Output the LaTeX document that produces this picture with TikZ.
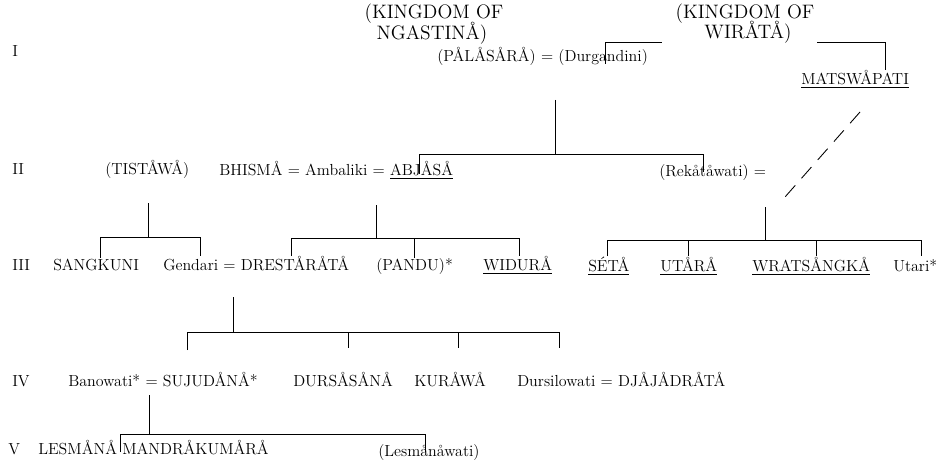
\documentclass[tikz,border=0pt]{standalone}
\usepackage{fontspec}
\begin{document}
\begin{tikzpicture}[x=0.75pt,y=-0.75pt,
  txt/.style={inner sep=0pt, font=\fontsize{12}{14}\selectfont, anchor=mid west},
  ttl/.style={inner sep=0pt, font=\fontsize{14.6}{16}\selectfont, anchor=mid},
  ln/.style={line width=0.65pt},
  dsh/.style={line width=0.65pt, dash pattern=on 11.25pt off 7.1pt}]
\useasboundingbox[fill=white] (0,0) rectangle (944,463);
% generation labels
\node[txt] (gI) at (12,54) {I};
\node[txt] (gII) at (12,172) {II};
\node[txt] (gIII) at (12,268) {III};
\node[txt] (gIV) at (12,384) {IV};
\node[txt] (gV) at (8,452) {V};
% row I
\node[ttl] (ng1) at (434,16) {(KINGDOM OF};
\node[ttl] (ng2) at (432,37) {NGASTINÅ)};
\node[ttl] (wi1) at (745,16) {(KINGDOM OF};
\node[ttl] (wi2) at (748,36) {WIRÅTÅ)};
\node[txt] (pal) at (437,59) {(PÅLÅSÅRÅ) = (Durgandini)};
\node[txt] (mats) at (801,82) {\underline{MATSWÅPATI}};
% row II
\node[txt] (tist) at (105,172) {(TISTÅWÅ)};
\node[txt] (bhis) at (219,173) {BHISMÅ = Ambaliki = \underline{ABJÅSÅ}};
\node[txt] (rek) at (659,174) {(Rekåtåwati) =};
% row III
\node[txt] (sang) at (53,268) {SANGKUNI};
\node[txt] (gend) at (163,268) {Gendari = DRESTÅRÅTÅ};
\node[txt] (pandu) at (376,268) {(PANDU)*};
\node[txt] (widura) at (483,268) {\underline{WIDURÅ}};
\node[txt] (seta) at (588,269) {\underline{SÉTÅ}};
\node[txt] (utara) at (660,269) {\underline{UTÅRÅ}};
\node[txt] (wrats) at (752,269) {\underline{WRATSÅNGKÅ}};
\node[txt] (utari) at (893,269) {Utari*};
% row IV
\node[txt] (banow) at (68,384) {Banowati* = SUJUDÅNÅ*};
\node[txt] (durs) at (293,384) {DURSÅSÅNÅ};
\node[txt] (kura) at (414,384) {KURÅWÅ};
\node[txt] (dursi) at (517,384) {Dursilowati = DJÅJÅDRÅTÅ};
% row V
\node[txt] (lesm) at (38,452) {LESMÅNÅ};
\node[txt] (mandra) at (122,452) {MANDRÅKUMÅRÅ};
\node[txt] (lesmw) at (378,454) {(Lesmånåwati)};
% connector points
\coordinate (nA) at (605,64); \coordinate (nB) at (605,42); \coordinate (nC) at (662,42);
\coordinate (wA) at (817,42); \coordinate (wB) at (885,42); \coordinate (wC) at (885,70);
\coordinate (p1) at (555,100); \coordinate (p2) at (555,154);
\coordinate (b1) at (419,174); \coordinate (b2) at (419,154);
\coordinate (b3) at (703,154); \coordinate (b4) at (703,172);
\coordinate (d1) at (860,112); \coordinate (d2) at (785,197);
% Tistawa children
\coordinate (t1) at (148,203); \coordinate (t2) at (148,237);
\coordinate (t3) at (100,258); \coordinate (t4) at (100,237);
\coordinate (t5) at (200,237); \coordinate (t6) at (200,256);
% Abjasa children
\coordinate (a1) at (376,205); \coordinate (a2) at (376,238);
\coordinate (a3) at (291,256); \coordinate (a4) at (291,238);
\coordinate (a5) at (519,238); \coordinate (a6) at (519,256);
\coordinate (a7) at (414,238); \coordinate (a8) at (414,258);
% Rekatawati children
\coordinate (r1) at (765,207); \coordinate (r2) at (765,240);
\coordinate (r3) at (607,256); \coordinate (r4) at (607,240);
\coordinate (r5) at (921,240); \coordinate (r6) at (921,256);
\coordinate (r7) at (688,240); \coordinate (r8) at (688,256);
\coordinate (r9) at (816,240); \coordinate (r10) at (816,256);
% Drestarata children
\coordinate (c1) at (233,297); \coordinate (c2) at (233,332);
\coordinate (c3) at (187,350); \coordinate (c4) at (187,332);
\coordinate (c5) at (559,332); \coordinate (c6) at (559,348);
\coordinate (c7) at (348,332); \coordinate (c8) at (348,348);
\coordinate (c9) at (458,332); \coordinate (c10) at (458,348);
% Sujudana children
\coordinate (s1) at (149,395); \coordinate (s2) at (149,434);
\coordinate (s3) at (120,452); \coordinate (s4) at (120,434);
\coordinate (s5) at (425,434); \coordinate (s6) at (425,452);
% draw connectors
\draw[ln] (nA) -- (nB) -- (nC);
\draw[ln] (wA) -- (wB) -- (wC);
\draw[ln] (p1) -- (p2);
\draw[ln] (b1) -- (b2) -- (b3) -- (b4);
\draw[dsh] (d1) -- (d2);
\draw[ln] (t1) -- (t2);
\draw[ln] (t3) -- (t4) -- (t5) -- (t6);
\draw[ln] (a1) -- (a2);
\draw[ln] (a3) -- (a4) -- (a5) -- (a6);
\draw[ln] (a7) -- (a8);
\draw[ln] (r1) -- (r2);
\draw[ln] (r3) -- (r4) -- (r5) -- (r6);
\draw[ln] (r7) -- (r8);
\draw[ln] (r9) -- (r10);
\draw[ln] (c1) -- (c2);
\draw[ln] (c3) -- (c4) -- (c5) -- (c6);
\draw[ln] (c7) -- (c8);
\draw[ln] (c9) -- (c10);
\draw[ln] (s1) -- (s2);
\draw[ln] (s3) -- (s4) -- (s5) -- (s6);
\end{tikzpicture}
\end{document}
